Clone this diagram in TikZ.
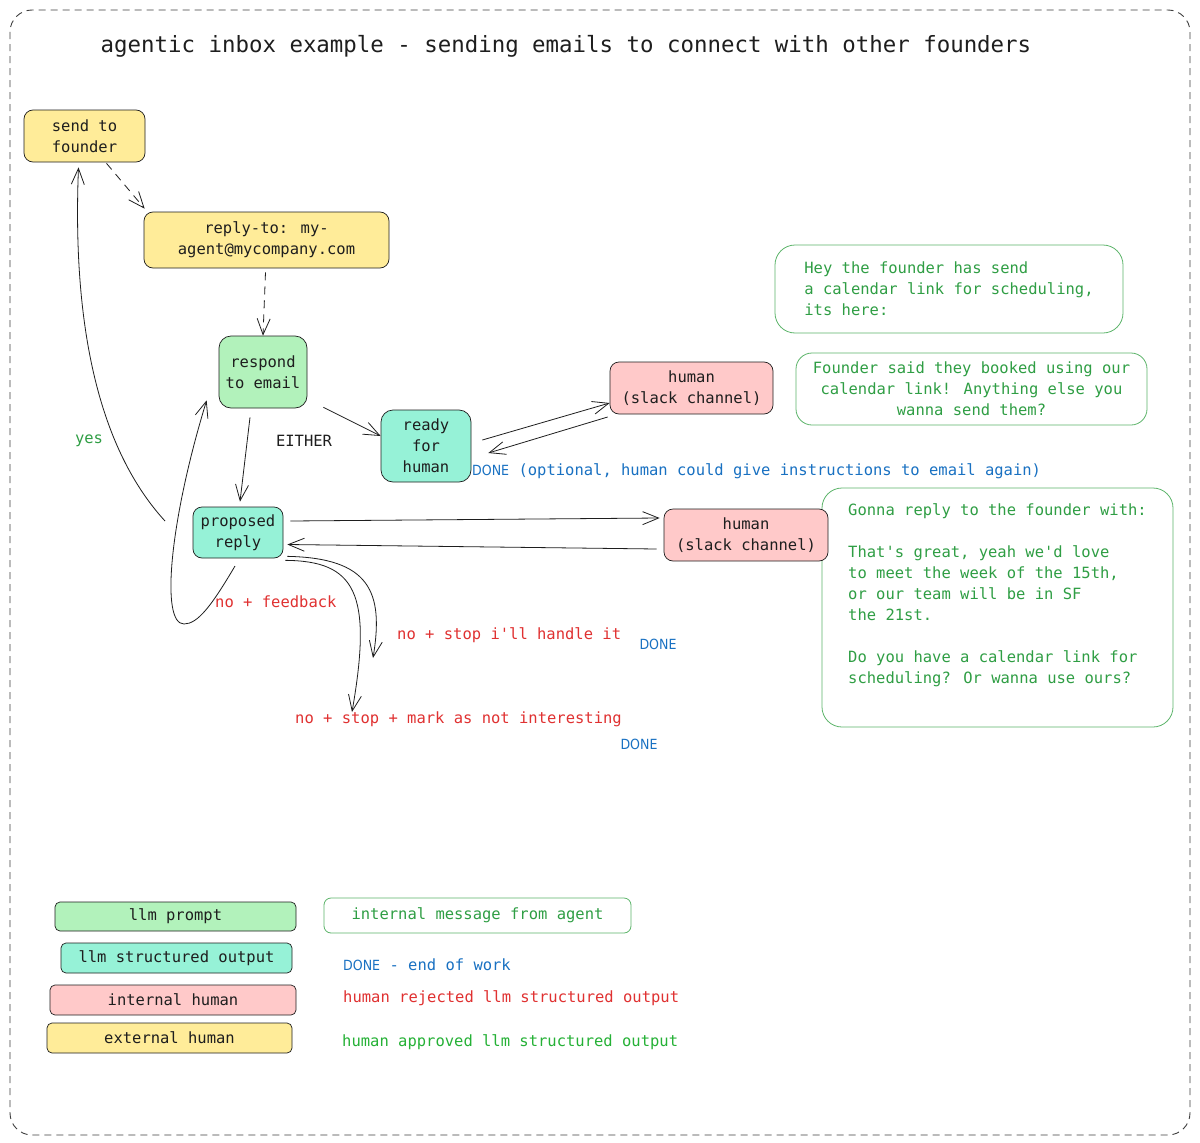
\documentclass[tikz,border=0pt]{standalone}
\usepackage{fontspec}
\setmainfont{DejaVu Sans Mono}[Ligatures=TeXOff]
\newfontfamily\donefont{DejaVu Sans Condensed}
\usetikzlibrary{arrows.meta,calc}
\definecolor{ylw}{HTML}{FFEC99}
\definecolor{grn}{HTML}{B2F2BB}
\definecolor{tea}{HTML}{96F2D7}
\definecolor{pnk}{HTML}{FFC9C9}
\definecolor{gtext}{HTML}{2F9E44}
\definecolor{gline}{HTML}{5DB56B}
\definecolor{rtext}{HTML}{E03131}
\definecolor{btext}{HTML}{1971C2}
\definecolor{ink}{HTML}{1E1E1E}
\newcommand\nfnt{\fontsize{15.5}{21}\selectfont}
\newcommand\dfnt{\donefont\fontsize{14}{16}\selectfont}
\tikzset{
  base/.style={draw=ink, line width=0.7pt, rounded corners=9pt, inner sep=0pt, align=center, font=\nfnt, text=ink},
  ybox/.style={base, fill=ylw},
  gbox/.style={base, fill=grn},
  tbox/.style={base, fill=tea},
  pbox/.style={base, fill=pnk},
  lgd/.style={rounded corners=5pt},
  mbox/.style={draw=gline, line width=0.8pt, rounded corners=20pt, inner sep=0pt, align=center, font=\nfnt, text=gtext, fill=white},
  gtxt/.style={inner sep=0pt, font=\nfnt, text=gtext},
  rtxt/.style={inner sep=0pt, font=\nfnt, text=rtext},
  btxt/.style={inner sep=0pt, font=\nfnt, text=btext},
  ktxt/.style={inner sep=0pt, font=\nfnt, text=ink},
  donelbl/.style={inner sep=0pt, font=\dfnt, text=btext},
  arr/.style={draw=ink, line width=0.8pt, -{Straight Barb[length=16pt,width=13pt,line width=0.8pt]}},
  dsh/.style={arr, dash pattern=on 8pt off 6pt},
}
\begin{document}
\begin{tikzpicture}[x=1pt,y=-1pt]
\useasboundingbox (0,0) rectangle (1200,1143);
\fill[white] (0,0) rectangle (1200,1143);
\draw[draw=ink!85, line width=0.9pt, dash pattern=on 7pt off 5pt, rounded corners=22pt] (10,10) rectangle (1190,1135);

\node[ktxt, font=\fontsize{22.4}{26}\selectfont] (title) at (566,46) {agentic inbox example - sending emails to connect with other founders};

% message boxes
\node[mbox, minimum width=348pt, minimum height=88pt, align=left] (msg1) at (949,289) {Hey the founder has send\\a calendar link for scheduling,\\its here:};
\node[mbox, minimum width=351pt, minimum height=72pt, rounded corners=16pt] (msg2) at (971.5,389) {Founder said they booked using our\\calendar link! Anything else you\\wanna send them?};
\node[mbox, minimum width=351pt, minimum height=239pt] (msg3) at (997.5,607.5) {};
\node[gtxt, align=left] (msg3t) at (997.5,595) {Gonna reply to the founder with:\\[21pt]That's great, yeah we'd love\\to meet the week of the 15th,\\or our team will be in SF\\the 21st.\\[21pt]Do you have a calendar link for\\scheduling? Or wanna use ours?};

% main nodes
\node[ybox, minimum width=121pt, minimum height=52pt] (send) at (84.5,136) {send to\\founder};
\node[ybox, minimum width=245pt, minimum height=56pt] (reply) at (266.5,240) {reply-to: my-\\agent@mycompany.com};
\node[gbox, minimum width=88pt, minimum height=72pt, rounded corners=12pt] (respond) at (263,372) {respond\\to email};
\node[tbox, minimum width=90pt, minimum height=72pt, rounded corners=12pt] (ready) at (426,446) {ready\\for\\human};
\node[pbox, minimum width=163pt, minimum height=52pt] (human1) at (691.5,388) {human\\(slack channel)};
\node[tbox, minimum width=90pt, minimum height=51pt] (proposed) at (238,532.5) {proposed\\reply};
\node[pbox, minimum width=164pt, minimum height=52pt] (human2) at (746,535) {human\\(slack channel)};

% labels
\node[gtxt] (yes) at (89,441) {yes};
\node[ktxt] (either) at (304,441) {EITHER};
\node[btxt, anchor=west] (done1) at (472,471) {{\dfnt DONE} (optional, human could give instructions to email again)};
\node[rtxt, anchor=west] (fb) at (215,602) {no + feedback};
\node[rtxt, anchor=west] (stop1) at (397,635) {no + stop i'll handle it};
\node[donelbl] (done2) at (658,644) {DONE};
\node[rtxt, anchor=west] (stop2) at (295,719) {no + stop + mark as not interesting};
\node[donelbl] (done3) at (639,744) {DONE};

% connector end points
\coordinate (sendout) at ($(send.south)+(22,1)$);
\coordinate (sendin) at ($(send.south)+(-6,5)$);
\coordinate (yesfrom) at (165,521);
\coordinate (fbfrom) at (235,566);
\coordinate (fbin) at ($(respond.south west)+(-12,-8)$);
\coordinate (s1tip) at (373,658);
\coordinate (s2tip) at (352,712);

% connectors
\draw[dsh] (sendout) -- ($(reply.north west)+(1,-3)$);
\draw[dsh] ($(reply.south)+(-1,4)$) -- (respond.north);
\draw[arr] ($(respond.south east)+(16,-1)$) -- ($(ready.west)+(0,-10)$);
\draw[arr] ($(respond.south)+(-13,9)$) -- ($(proposed.north)+(2,-5)$);
\draw[arr] ($(ready.east)+(11,-6)$) -- ($(human1.west)+(0,15)$);
\draw[arr] ($(human1.west)+(-2,29)$) -- ($(ready.east)+(17,7)$);
\draw[arr] ($(proposed.east)+(7,-11.5)$) -- ($(human2.west)+(-4,-17)$);
\draw[arr] ($(human2.west)+(-7,14)$) -- ($(proposed.east)+(4,12)$);
\draw[arr] (yesfrom) .. controls (100,450) and (72,330) .. (sendin);
\draw[arr] (fbfrom) .. controls (212,605) and (198,624) .. (184,624) .. controls (160,624) and (170,520) .. (fbin);
\draw[arr] ($(proposed.south east)+(4,-2)$) .. controls (370,558) and (384,592) .. (s1tip);
\draw[arr] ($(proposed.south east)+(2,2)$) .. controls (355,561) and (373,592) .. (s2tip);

% legend
\node[gbox, lgd, minimum width=241pt, minimum height=29pt] (l1) at (175.5,916.5) {llm prompt};
\node[tbox, lgd, minimum width=231pt, minimum height=30pt] (l2) at (176.5,958) {llm structured output};
\node[pbox, lgd, minimum width=246pt, minimum height=30pt] (l3) at (173,1000) {internal human};
\node[ybox, lgd, minimum width=245pt, minimum height=30pt] (l4) at (169.5,1038) {external human};
\node[mbox, rounded corners=7pt, minimum width=307pt, minimum height=35pt] (l5) at (477.5,915.5) {internal message from agent};
\node[btxt, anchor=west] (l6) at (343,965) {{\dfnt DONE} - end of work};
\node[rtxt, anchor=west] (l7) at (343,998) {human rejected llm structured output};
\node[gtxt, anchor=west, text=gtext!80!green] (l8) at (342,1042) {human approved llm structured output};
\end{tikzpicture}
\end{document}
